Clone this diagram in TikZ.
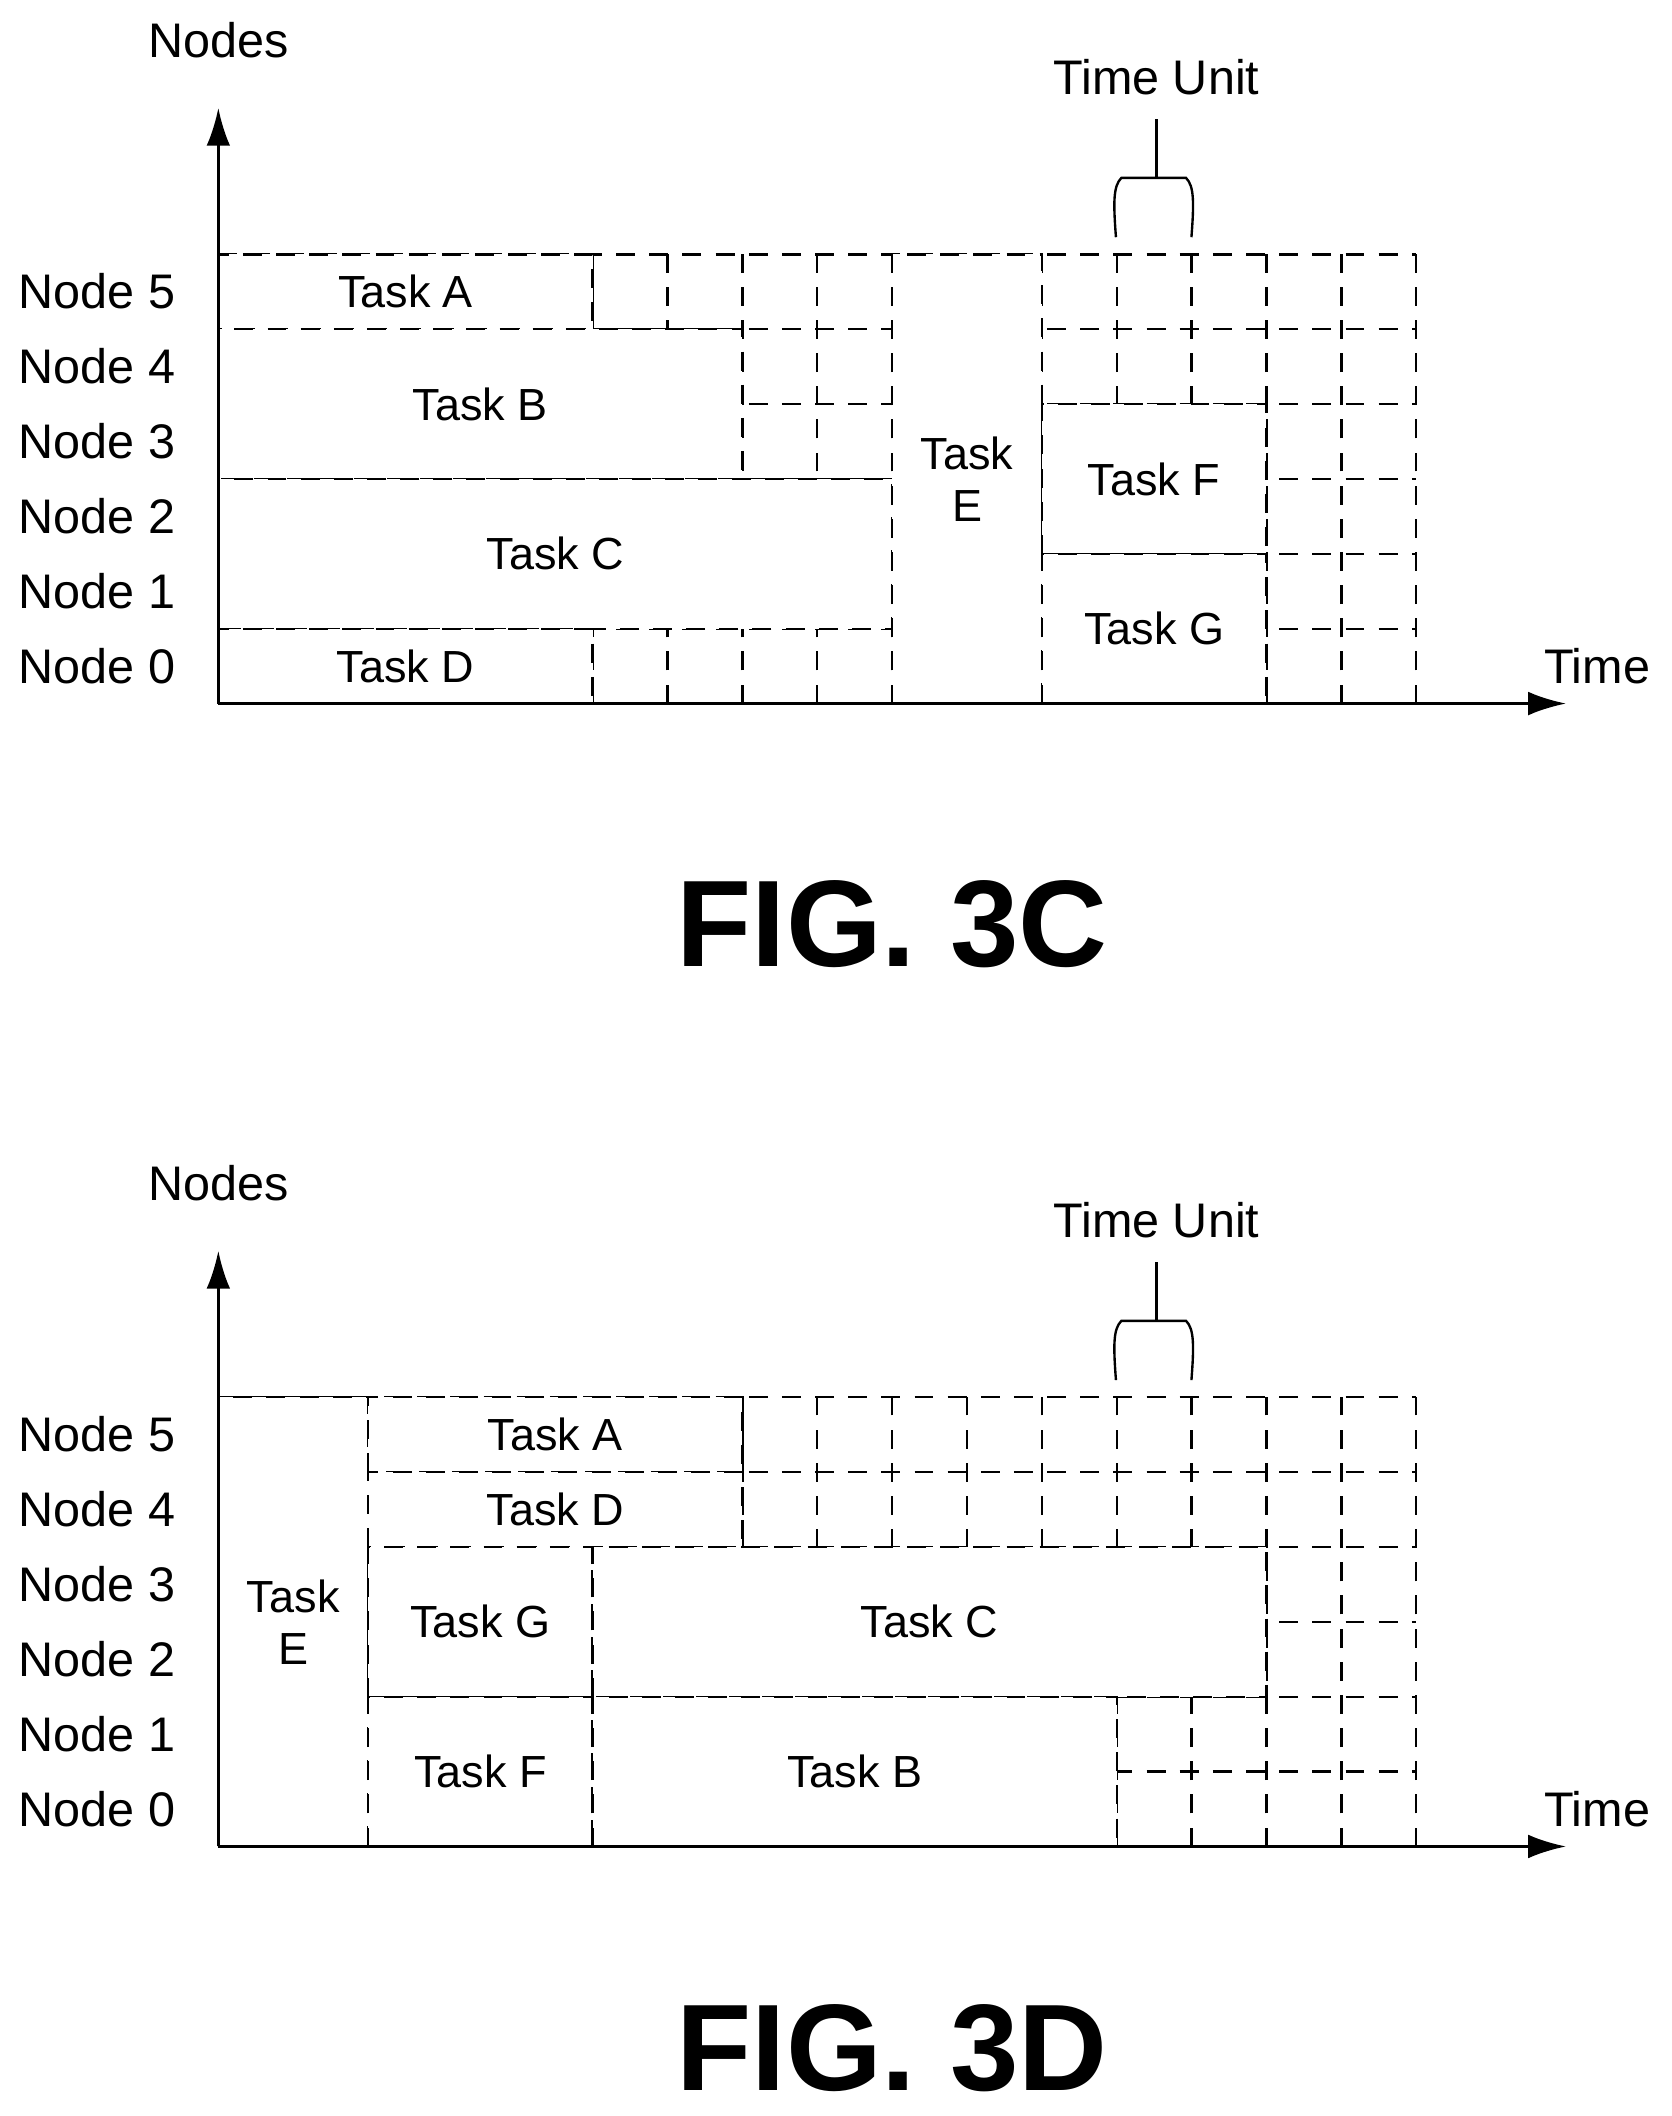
\documentclass[tikz,border=0pt]{standalone}
\usepackage{fontspec}
\setmainfont{Liberation Sans}
\usetikzlibrary{arrows.meta}
\tikzset{
  grid/.style={dashed,line width=1pt,dash pattern=on 8pt off 6pt},
  task/.style={grid,fill=white},
  axis/.style={line width=1.3pt,-{Latex[length=16pt,width=10pt]}},
  lbl/.style={font=\fontsize{19}{22}\selectfont},
  side/.style={font=\fontsize{20.5}{24}\selectfont},
  fig/.style={font=\fontsize{52}{56}\selectfont\bfseries}
}
\newcommand\taskbox[5]{\draw[task] (#1,#2) rectangle (#3,#4) node[midway,lbl,align=center]{#5};}
\begin{document}
\begin{tikzpicture}[x=0.02cm,y=-0.02cm]
  \useasboundingbox (0,0) rectangle (1240,1570);
  % two charts, 3C on top and 3D below
  \foreach \yo/\fg/\ty in {0/C/686,848/D/672} {
  \begin{scope}[yshift=-\yo*0.02cm]
    \node[side] (nodes\fg) at (162,30) {Nodes};
    \node[side] (time\fg) at (1185,494) {Time};
    \node[side] (unit\fg) at (858,57) {Time Unit};
    \node[fig] (title\fg) at (662,\ty) {FIG. 3\fg};
    \foreach \r in {0,...,5}
      \node[side] (row\fg\r) at (72,494-\r*55.6) {Node \r};
    \coordinate (o\fg) at (162,522);
    \coordinate (ytip\fg) at (162,80);
    \coordinate (xtip\fg) at (1162,522);
    \coordinate (bup\fg) at (858,88);
    \coordinate (bmid\fg) at (858,132);
    \draw[line width=1pt] (828,176) .. controls (826,150) and (826,138) .. (832,132)
      -- (880,132) .. controls (886,138) and (886,150) .. (884,176);
    \draw[line width=1pt] (bmid\fg) -- (bup\fg);
  \end{scope}
  }
  % fig 3C grid
  \begin{scope}[shift={(162,522)},x=1.1112cm,y=1.1112cm]
    \foreach \i in {1,...,16} \draw[grid] (\i,0) -- (\i,6);
    \foreach \j in {1,...,6} \draw[grid] (0,\j) -- (16,\j);
    \taskbox{0}{5}{5}{6}{Task A}
    \taskbox{0}{3}{7}{5}{Task B}
    \taskbox{0}{1}{9}{3}{Task C}
    \taskbox{0}{0}{5}{1}{Task D}
    \taskbox{9}{0}{11}{6}{Task\\E}
    \taskbox{11}{2}{14}{4}{Task F}
    \taskbox{11}{0}{14}{2}{Task G}
  \end{scope}
  % fig 3D grid
  \begin{scope}[shift={(162,1370)},x=1.1112cm,y=1.1112cm]
    \foreach \i in {1,...,16} \draw[grid] (\i,0) -- (\i,6);
    \foreach \j in {1,...,6} \draw[grid] (0,\j) -- (16,\j);
    \taskbox{0}{0}{2}{6}{Task\\E}
    \taskbox{2}{5}{7}{6}{Task A}
    \taskbox{2}{4}{7}{5}{Task D}
    \taskbox{2}{2}{5}{4}{Task G}
    \taskbox{5}{2}{14}{4}{Task C}
    \taskbox{2}{0}{5}{2}{Task F}
    \taskbox{5}{0}{12}{2}{Task B}
  \end{scope}
  \foreach \fg in {C,D} {
    \draw[axis] (o\fg) -- (ytip\fg);
    \draw[axis] (o\fg) -- (xtip\fg);
  }
\end{tikzpicture}
\end{document}
